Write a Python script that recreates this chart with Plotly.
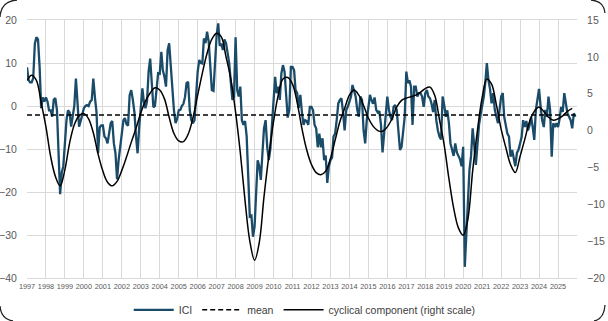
import pandas as pd
import plotly.graph_objects as go

# ---------------- data ----------------
YEAR_LABELS = [str(y) for y in range(1997, 2026)]

# monthly ICI, Jan 1997 .. Dec 2025 (left scale)
ICI = [
    9, 6, 5.5, 5.5, 6.5, 14.5, 16, 15.5, 9, -0.5, 2, 1,                    # 1997
    2, 1, -1, -1, -2.5, 1.5, 1.8, -1, -11, -20.5, -15.5, -14,              # 1998
    -8.7, -3.2, -1, -1.5, -4.8, -2, 0, 6.4, 0.4, -4.8, -3.5, -2,          # 1999
    -0.5, 0, 0.2, 0, 1, 1.4, 6.4, 2, -1.5, -11, -5, -4.5,                 # 2000
    -4.5, -7.1, -7.5, -8.7, -6, -4, -3.5, -8.7, -11, -17, -12.5, -8.7,    # 2001
    -6.4, -3.3, -2.8, -4.2, -4.6, 2.5, 3.7, 1.5, -1.5, -7, -11, -5,       # 2002
    -0.5, 4.1, 1, -0.5, 1, 8, 11, 6, -0.3, 0, 4.5, 7.6,                   # 2003
    7.5, 12.6, 8.3, 6.8, 4.5, 13, 14.6, 9, 3, -1, -4, -3,                 # 2004
    -1, -0.9, 0, 0.5, 2, 5.3, 5.6, -0.9, -3.3, -4, -3.3, 3,               # 2005
    8, 10.7, 10, 9.9, 15.7, 14.6, 17.3, 15, 8, 3.7, 3.5, 11.5,            # 2006
    16.5, 19.2, 14, 14.5, 13, 15.5, 14.6, 12.3, 9.9, 5.5, 1.4, 2.2,       # 2007
    16, 3.7, 2.2, 4.5, -3.3, -4.4, -3.5, -7, -16.4, -25.7, -25.5, -30.4,  # 2008
    -28, -18.8, -12.6, -14, -17.2, -11, -5.2, -3.3, -9.5, -12.6, -10, -4.5,  # 2009
    0.2, 6.8, 3, 4.5, 1.4, 7.6, 9.5, 8, 2.5, -2.7, -0.9, 9.1,             # 2010
    9.1, 8.3, 3.7, 3, -0.5, 2.6, -1.4, -4.4, -3.3, -3.5, -4.4, -0.2,      # 2011
    -0.2, -1, -4.4, -5.2, -9.6, -6.4, -9.6, -7.5, -12.6, -11.5, -17.9, -14,  # 2012
    -12.6, -12, -7.1, -6.4, -3.3, 0.6, 1.4, 1.8, -1.5, -5.7, -0.9, -0.2,  # 2013
    1, 2.2, 4.9, 3.3, 2.2, -0.9, -2.5, 2.2, 1.4, -5.7, -8.7, -3.3,        # 2014
    -0.2, 2.6, 1.4, 0.5, 2, -0.9, -1.5, -1.2, -4.4, -10.8, -6.4, -2.5,    # 2015
    2.2, -0.9, -2.5, -3.3, -0.2, 0.2, -1, -5.7, -10.2, -9.5, -5.2, -2.5,  # 2016
    8, 5.3, 6, 4.5, -4.4, 4.5, 4.5, 2.2, 3, 3, 2.2, -0.2,                 # 2017
    3, 3.7, 2.2, 1.8, 0.6, -1.4, 1.4, -3.3, -5.7, -7.1, -7.8, 2.2,        # 2018
    0.2, -2.5, -1, -4, -8.7, -10.2, -11.6, -8.7, -10.8, -11.6, -12.4, -14,  # 2019
    -9.5, -37.4, -30.5, -24.2, -14.9, -11.6, -5.2, -9.1, -13.7, -9.1, -4.4, -2.1,  # 2020
    -0.2, 2.2, 5.3, 10, 6, 4, 0.6, 3, -0.9, -2.5, -4, -0.9,               # 2021
    2.2, 3, -2.5, -4.5, -6.4, -7.1, -11.8, -10.2, -12.6, -14, -10.9, -10.2,  # 2022
    -8.7, -7.1, -3.3, -4.9, -3.5, -5.7, -4.6, -2.5, -4.9, -7.9, -0.9, 2.2,  # 2023
    4, -0.2, -3.3, -4.9, -0.9, -2.5, 2.2, -0.9, -11.8, -4, -4.9, -4,      # 2024
    -4.9, -2.9, -0.2, -1.4, 3, 0.6, -1.7, -2.5, -3.3, -5.2, -1.7, -2.5,   # 2025
]

# mean of ICI (dashed line, left scale)
MEAN = -2.1

# cyclical component, quarterly from Jan 1997 (right scale)
CYCLE = [
    6.8, 7.5, 6.8, 3.8,        # 1997
    0.5, -3.5, -6.2, -7.5,     # 1998
    -5.3, -1.7, 0.8, 2.0,      # 1999
    2.3, 1.6, -0.3, -3.2,      # 2000
    -5.5, -7.0, -7.5, -6.9,    # 2001
    -5.4, -3.6, -1.6, 0.3,     # 2002
    2.4, 4.0, 5.1, 5.8,        # 2003
    5.5, 4.3, 1.8, -0.4,       # 2004
    -1.4, -1.5, -0.5, 1.7,     # 2005
    4.8, 7.8, 10.5, 12.4,      # 2006
    13.2, 12.7, 10.0, 7.0,     # 2007
    2.5, -3.0, -9.5, -15.0,    # 2008
    -17.6, -15.2, -9.0, -3.5,  # 2009
    1.2, 4.8, 7.0, 7.2,        # 2010
    6.3, 3.8, 0.3, -2.6,       # 2011
    -4.6, -5.7, -6.0, -5.5,    # 2012
    -3.8, -1.3, 1.2, 3.0,      # 2013
    4.8, 5.5, 4.8, 3.4,        # 2014
    1.7, 0.6, 0.0, -0.1,       # 2015
    0.5, 1.6, 3.2, 4.1,        # 2016
    4.4, 4.6, 4.8, 5.2,        # 2017
    5.7, 5.9, 4.8, 1.5,        # 2018
    -2.0, -6.5, -10.5, -13.2,  # 2019
    -14.2, -12.0, -5.5, 0.0,   # 2020
    4.5, 7.0, 6.3, 3.5,        # 2021
    0.2, -2.3, -4.6, -5.7,     # 2022
    -3.5, -1.2, 1.2, 2.6,      # 2023
    3.2, 2.6, 1.8, 1.4,        # 2024
    1.6, 2.0, 2.6, 3.0,        # 2025
]

# ---------------- build figure ----------------
ici_dates = pd.date_range("1997-01-01", periods=len(ICI), freq="MS")
cyc_dates = pd.date_range("1997-01-01", periods=len(CYCLE), freq="3MS")
tick_dates = [f"{y}-01-01" for y in YEAR_LABELS] + ["2026-01-01"]
tick_text = YEAR_LABELS + [""]

FONT = "Liberation Sans, Arial, sans-serif"
GRID = "#D9D9D9"
TICKCOL = "#595959"

fig = go.Figure()
fig.add_trace(go.Scatter(
    x=ici_dates, y=ICI, mode="lines", name="ICI",
    line=dict(color="#1A4B69", width=2.3),
))
fig.add_trace(go.Scatter(
    x=[ici_dates[0], ici_dates[-1]], y=[MEAN, MEAN], mode="lines", name="mean",
    line=dict(color="black", width=1.5, dash="5px,3px"),
))
fig.add_trace(go.Scatter(
    x=cyc_dates, y=CYCLE, mode="lines", name="cyclical component (right scale)",
    yaxis="y2", line=dict(color="black", width=1.5, shape="spline", smoothing=1.0),
))

# corner arcs of the chart frame (pixel -> paper)
L, T, W, H = 27, 20, 550, 258


def P(x, y):
    return f"{(x - L) / W:.5f},{(T + H - y) / H:.5f}"


arcs = [
    f"M {P(0, 17)} Q {P(1, 1)} {P(17, 0)}",
    f"M {P(591, 0)} Q {P(604, 1)} {P(605, 13)}",
    f"M {P(0, 306)} Q {P(1, 319)} {P(13, 321)}",
    f"M {P(605, 305)} Q {P(604, 319)} {P(594, 321)}",
]
shapes = [dict(type="path", path=a, xref="paper", yref="paper",
               line=dict(color="#222222", width=1.3)) for a in arcs]

fig.update_layout(
    width=608, height=321,
    margin=dict(l=L, r=608 - L - W, t=T, b=321 - T - H, autoexpand=False),
    paper_bgcolor="white", plot_bgcolor="white",
    font=dict(family=FONT, color=TICKCOL),
    showlegend=True,
    legend=dict(orientation="h", x=0.505, xanchor="center", y=-0.067, yanchor="top",
                font=dict(size=10.5, color="#404040"), itemwidth=40,
                traceorder="normal"),
    xaxis=dict(
        type="date", range=["1997-01-01", "2026-01-01"],
        tickmode="array", tickvals=tick_dates, ticktext=tick_text,
        tickangle=0, tickfont=dict(size=7.3, color=TICKCOL),
        showgrid=True, gridcolor=GRID, gridwidth=1,
        showline=True, linecolor=GRID, mirror=True,
        ticks="outside", ticklen=1, tickcolor="rgba(0,0,0,0)",
        zeroline=False, automargin=False,
    ),
    yaxis=dict(
        range=[-40, 20], dtick=10, tick0=0,
        tickfont=dict(size=10.5, color=TICKCOL),
        showgrid=True, gridcolor=GRID, gridwidth=1,
        zeroline=False, showline=False, automargin=False,
        ticks="outside", ticklen=7, tickcolor="rgba(0,0,0,0)",
    ),
    yaxis2=dict(
        overlaying="y", side="right", range=[-20, 15], dtick=5, tick0=0,
        tickfont=dict(size=10.5, color=TICKCOL),
        showgrid=False, zeroline=False, showline=False, automargin=False,
        ticks="outside", ticklen=7, tickcolor="rgba(0,0,0,0)",
    ),
    shapes=shapes,
)

fig.write_html("out.html")
